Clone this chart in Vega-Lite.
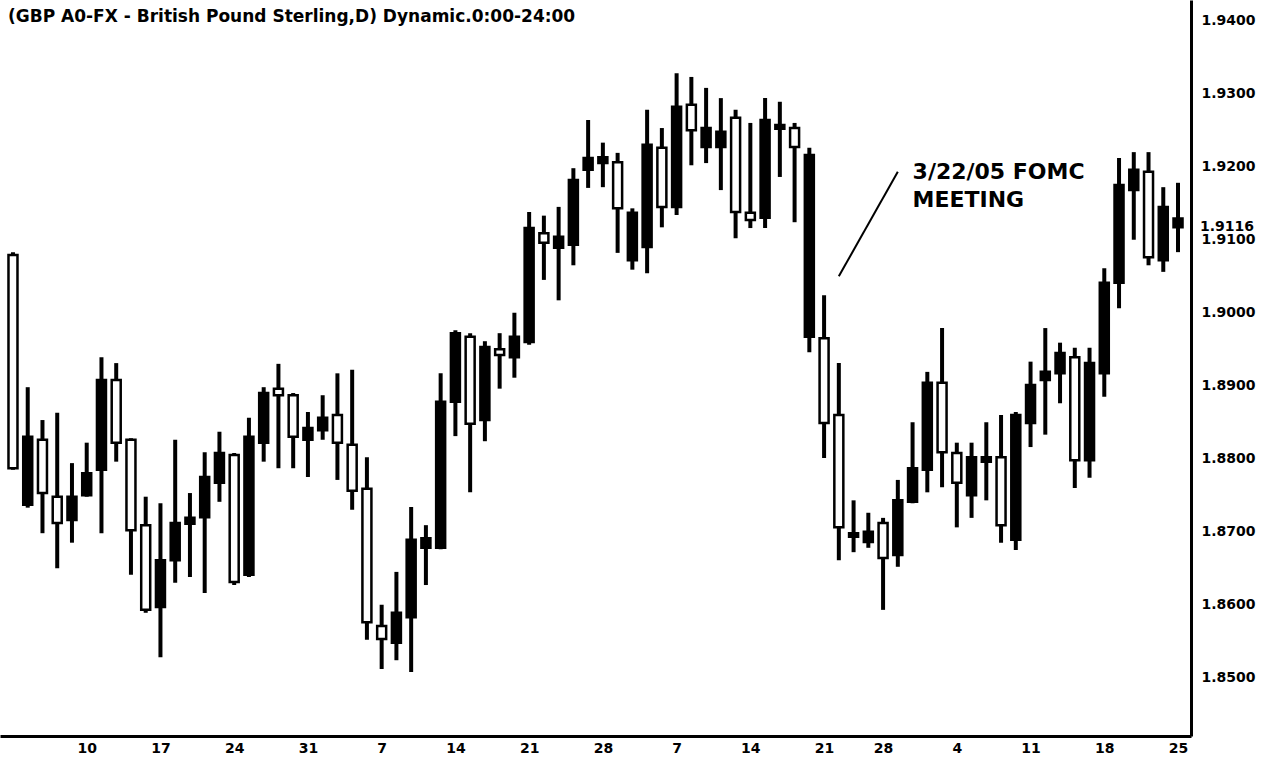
{
  "$schema": "https://vega.github.io/schema/vega-lite/v6.json",
  "width": 1191,
  "height": 736,
  "autosize": {"type": "none"},
  "padding": {"left": 0, "top": 0, "right": 83, "bottom": 30},
  "background": "white",
  "title": {
    "text": "(GBP A0-FX - British Pound Sterling,D) Dynamic.0:00-24:00",
    "anchor": "start",
    "frame": "group",
    "offset": -26,
    "dx": 8,
    "font": "DejaVu Sans",
    "fontSize": 17,
    "fontWeight": "bold",
    "color": "black"
  },
  "config": {
    "view": {"stroke": null},
    "axis": {"labelFont": "DejaVu Sans", "labelFontWeight": "bold", "labelColor": "black", "labelFontSize": 14}
  },
  "datasets": {
    "ohlc": [
      {"date": "2005-01-03", "open": 1.8786, "high": 1.9082, "low": 1.8784, "close": 1.9078},
      {"date": "2005-01-04", "open": 1.8829, "high": 1.8897, "low": 1.8732, "close": 1.8736},
      {"date": "2005-01-05", "open": 1.8752, "high": 1.8852, "low": 1.8697, "close": 1.8825},
      {"date": "2005-01-06", "open": 1.8711, "high": 1.8862, "low": 1.8649, "close": 1.8747},
      {"date": "2005-01-07", "open": 1.8747, "high": 1.8793, "low": 1.8684, "close": 1.8715},
      {"date": "2005-01-10", "open": 1.8779, "high": 1.8821, "low": 1.8747, "close": 1.8749},
      {"date": "2005-01-11", "open": 1.8907, "high": 1.8938, "low": 1.8697, "close": 1.8784},
      {"date": "2005-01-12", "open": 1.8821, "high": 1.8930, "low": 1.8795, "close": 1.8907},
      {"date": "2005-01-13", "open": 1.8701, "high": 1.8827, "low": 1.8640, "close": 1.8825},
      {"date": "2005-01-14", "open": 1.8592, "high": 1.8747, "low": 1.8588, "close": 1.8708},
      {"date": "2005-01-17", "open": 1.8660, "high": 1.8738, "low": 1.8527, "close": 1.8596},
      {"date": "2005-01-18", "open": 1.8711, "high": 1.8825, "low": 1.8629, "close": 1.8660},
      {"date": "2005-01-19", "open": 1.8718, "high": 1.8752, "low": 1.8637, "close": 1.8710},
      {"date": "2005-01-20", "open": 1.8774, "high": 1.8808, "low": 1.8615, "close": 1.8719},
      {"date": "2005-01-21", "open": 1.8807, "high": 1.8836, "low": 1.8740, "close": 1.8766},
      {"date": "2005-01-24", "open": 1.8630, "high": 1.8807, "low": 1.8626, "close": 1.8804},
      {"date": "2005-01-25", "open": 1.8829, "high": 1.8855, "low": 1.8637, "close": 1.8640},
      {"date": "2005-01-26", "open": 1.8889, "high": 1.8897, "low": 1.8795, "close": 1.8821},
      {"date": "2005-01-27", "open": 1.8886, "high": 1.8929, "low": 1.8786, "close": 1.8895},
      {"date": "2005-01-28", "open": 1.8829, "high": 1.8889, "low": 1.8786, "close": 1.8886},
      {"date": "2005-01-31", "open": 1.8841, "high": 1.8863, "low": 1.8774, "close": 1.8825},
      {"date": "2005-02-01", "open": 1.8855, "high": 1.8886, "low": 1.8825, "close": 1.8838},
      {"date": "2005-02-02", "open": 1.8821, "high": 1.8916, "low": 1.8770, "close": 1.8859},
      {"date": "2005-02-03", "open": 1.8755, "high": 1.8921, "low": 1.8729, "close": 1.8818},
      {"date": "2005-02-04", "open": 1.8575, "high": 1.8801, "low": 1.8551, "close": 1.8758},
      {"date": "2005-02-07", "open": 1.8552, "high": 1.8599, "low": 1.8511, "close": 1.8570},
      {"date": "2005-02-08", "open": 1.8588, "high": 1.8644, "low": 1.8523, "close": 1.8547},
      {"date": "2005-02-09", "open": 1.8688, "high": 1.8733, "low": 1.8507, "close": 1.8582},
      {"date": "2005-02-10", "open": 1.8690, "high": 1.8708, "low": 1.8626, "close": 1.8677},
      {"date": "2005-02-11", "open": 1.8877, "high": 1.8916, "low": 1.8675, "close": 1.8677},
      {"date": "2005-02-14", "open": 1.8971, "high": 1.8975, "low": 1.8830, "close": 1.8877},
      {"date": "2005-02-15", "open": 1.8847, "high": 1.8971, "low": 1.8753, "close": 1.8966},
      {"date": "2005-02-16", "open": 1.8952, "high": 1.8960, "low": 1.8823, "close": 1.8852},
      {"date": "2005-02-17", "open": 1.8941, "high": 1.8971, "low": 1.8895, "close": 1.8949},
      {"date": "2005-02-18", "open": 1.8966, "high": 1.8999, "low": 1.8910, "close": 1.8938},
      {"date": "2005-02-21", "open": 1.9115, "high": 1.9137, "low": 1.8955, "close": 1.8959},
      {"date": "2005-02-22", "open": 1.9095, "high": 1.9132, "low": 1.9044, "close": 1.9108},
      {"date": "2005-02-23", "open": 1.9103, "high": 1.9144, "low": 1.9016, "close": 1.9088},
      {"date": "2005-02-24", "open": 1.9181, "high": 1.9197, "low": 1.9064, "close": 1.9092},
      {"date": "2005-02-25", "open": 1.9211, "high": 1.9263, "low": 1.9170, "close": 1.9195},
      {"date": "2005-02-28", "open": 1.9212, "high": 1.9232, "low": 1.9171, "close": 1.9204},
      {"date": "2005-03-01", "open": 1.9142, "high": 1.9218, "low": 1.9081, "close": 1.9205},
      {"date": "2005-03-02", "open": 1.9136, "high": 1.9142, "low": 1.9058, "close": 1.9071},
      {"date": "2005-03-03", "open": 1.9229, "high": 1.9277, "low": 1.9053, "close": 1.9089},
      {"date": "2005-03-04", "open": 1.9144, "high": 1.9252, "low": 1.9116, "close": 1.9225},
      {"date": "2005-03-07", "open": 1.9281, "high": 1.9327, "low": 1.9133, "close": 1.9144},
      {"date": "2005-03-08", "open": 1.9249, "high": 1.9322, "low": 1.9201, "close": 1.9284},
      {"date": "2005-03-09", "open": 1.9252, "high": 1.9307, "low": 1.9204, "close": 1.9226},
      {"date": "2005-03-10", "open": 1.9247, "high": 1.9293, "low": 1.9167, "close": 1.9226},
      {"date": "2005-03-11", "open": 1.9137, "high": 1.9277, "low": 1.9101, "close": 1.9266},
      {"date": "2005-03-14", "open": 1.9126, "high": 1.9259, "low": 1.9115, "close": 1.9136},
      {"date": "2005-03-15", "open": 1.9263, "high": 1.9293, "low": 1.9115, "close": 1.9129},
      {"date": "2005-03-16", "open": 1.9256, "high": 1.9288, "low": 1.9185, "close": 1.9251},
      {"date": "2005-03-17", "open": 1.9226, "high": 1.9259, "low": 1.9123, "close": 1.9252},
      {"date": "2005-03-18", "open": 1.9215, "high": 1.9225, "low": 1.8945, "close": 1.8966},
      {"date": "2005-03-21", "open": 1.8848, "high": 1.9023, "low": 1.8800, "close": 1.8964},
      {"date": "2005-03-22", "open": 1.8705, "high": 1.8930, "low": 1.8660, "close": 1.8859},
      {"date": "2005-03-23", "open": 1.8697, "high": 1.8742, "low": 1.8671, "close": 1.8692},
      {"date": "2005-03-24", "open": 1.8699, "high": 1.8725, "low": 1.8677, "close": 1.8685},
      {"date": "2005-03-28", "open": 1.8663, "high": 1.8718, "low": 1.8592, "close": 1.8711},
      {"date": "2005-03-29", "open": 1.8742, "high": 1.8770, "low": 1.8651, "close": 1.8667},
      {"date": "2005-03-30", "open": 1.8786, "high": 1.8849, "low": 1.8738, "close": 1.8740},
      {"date": "2005-03-31", "open": 1.8903, "high": 1.8918, "low": 1.8753, "close": 1.8784},
      {"date": "2005-04-01", "open": 1.8808, "high": 1.8978, "low": 1.8760, "close": 1.8903},
      {"date": "2005-04-04", "open": 1.8766, "high": 1.8821, "low": 1.8705, "close": 1.8807},
      {"date": "2005-04-05", "open": 1.8801, "high": 1.8821, "low": 1.8718, "close": 1.8749},
      {"date": "2005-04-06", "open": 1.8801, "high": 1.8849, "low": 1.8742, "close": 1.8795},
      {"date": "2005-04-07", "open": 1.8708, "high": 1.8859, "low": 1.8684, "close": 1.8801},
      {"date": "2005-04-08", "open": 1.8859, "high": 1.8863, "low": 1.8674, "close": 1.8688},
      {"date": "2005-04-11", "open": 1.8900, "high": 1.8932, "low": 1.8815, "close": 1.8848},
      {"date": "2005-04-12", "open": 1.8918, "high": 1.8978, "low": 1.8832, "close": 1.8907},
      {"date": "2005-04-13", "open": 1.8944, "high": 1.8958, "low": 1.8875, "close": 1.8916},
      {"date": "2005-04-14", "open": 1.8797, "high": 1.8951, "low": 1.8759, "close": 1.8938},
      {"date": "2005-04-15", "open": 1.8930, "high": 1.8951, "low": 1.8773, "close": 1.8797},
      {"date": "2005-04-18", "open": 1.9040, "high": 1.9060, "low": 1.8884, "close": 1.8916},
      {"date": "2005-04-19", "open": 1.9174, "high": 1.9211, "low": 1.9005, "close": 1.9040},
      {"date": "2005-04-20", "open": 1.9195, "high": 1.9219, "low": 1.9099, "close": 1.9167},
      {"date": "2005-04-21", "open": 1.9075, "high": 1.9219, "low": 1.9064, "close": 1.9192},
      {"date": "2005-04-22", "open": 1.9144, "high": 1.9171, "low": 1.9055, "close": 1.9071},
      {"date": "2005-04-25", "open": 1.9128, "high": 1.9177, "low": 1.9082, "close": 1.9116}
    ],
    "notes": [
      {"date": "2005-03-30", "price": 1.9192, "label": "3/22/05 FOMC"},
      {"date": "2005-03-30", "price": 1.9153, "label": "MEETING"}
    ],
    "pointer": [
      {"date": "2005-03-29", "date2": "2005-03-22", "top": 1.9192, "bottom": 1.9049}
    ]
  },
  "layer": [
    {
      "data": {"name": "ohlc"},
      "mark": {"type": "rule", "strokeWidth": 4, "color": "black"},
      "encoding": {
        "x": {
          "field": "date", "type": "ordinal",
          "scale": {"type": "point", "padding": 0.88},
          "axis": {
            "orient": "bottom", "title": null, "ticks": false, "labelAngle": 0,
            "labelOverlap": false, "labelPadding": 5,
            "domainColor": "black", "domainWidth": 3,
            "labelExpr": "(datum.value > '2005-01-03' && utcFormat(toDate(datum.value), '%a') == 'Mon') ? utcFormat(toDate(datum.value), '%-d') : ''"
          }
        },
        "y": {
          "field": "low", "type": "quantitative",
          "scale": {"domain": [1.84192, 1.94274], "nice": false, "zero": false},
          "axis": {
            "orient": "right", "title": null, "ticks": false, "grid": false,
            "values": [1.85, 1.86, 1.87, 1.88, 1.89, 1.9, 1.91, 1.92, 1.93, 1.94],
            "format": ".4f", "labelPadding": 10,
            "domainColor": "black", "domainWidth": 3
          }
        },
        "y2": {"field": "high"}
      }
    },
    {
      "data": {"name": "ohlc"},
      "mark": {"type": "bar", "size": 9, "stroke": "black", "strokeWidth": 2.5},
      "encoding": {
        "x": {"field": "date", "type": "ordinal"},
        "y": {"field": "open", "type": "quantitative"},
        "y2": {"field": "close"},
        "fill": {"condition": {"test": "datum.open > datum.close", "value": "black"}, "value": "white"}
      }
    },
    {
      "data": {"name": "ohlc"},
      "transform": [{"filter": "datum.date == '2005-04-25'"}],
      "mark": {"type": "text", "align": "left", "baseline": "middle", "dx": 22, "font": "DejaVu Sans", "fontWeight": "bold", "fontSize": 14, "color": "black"},
      "encoding": {
        "x": {"field": "date", "type": "ordinal"},
        "y": {"field": "close", "type": "quantitative"},
        "text": {"field": "close", "type": "quantitative", "format": ".4f"}
      }
    },
    {
      "data": {"name": "notes"},
      "mark": {"type": "text", "align": "left", "baseline": "middle", "font": "DejaVu Sans", "fontWeight": "bold", "fontSize": 22, "color": "black"},
      "encoding": {
        "x": {"field": "date", "type": "ordinal"},
        "y": {"field": "price", "type": "quantitative"},
        "text": {"field": "label", "type": "nominal"}
      }
    },
    {
      "data": {"name": "pointer"},
      "mark": {"type": "rule", "strokeWidth": 2, "color": "black"},
      "encoding": {
        "x": {"field": "date", "type": "ordinal"},
        "x2": {"field": "date2"},
        "y": {"field": "top", "type": "quantitative"},
        "y2": {"field": "bottom"}
      }
    }
  ]
}
